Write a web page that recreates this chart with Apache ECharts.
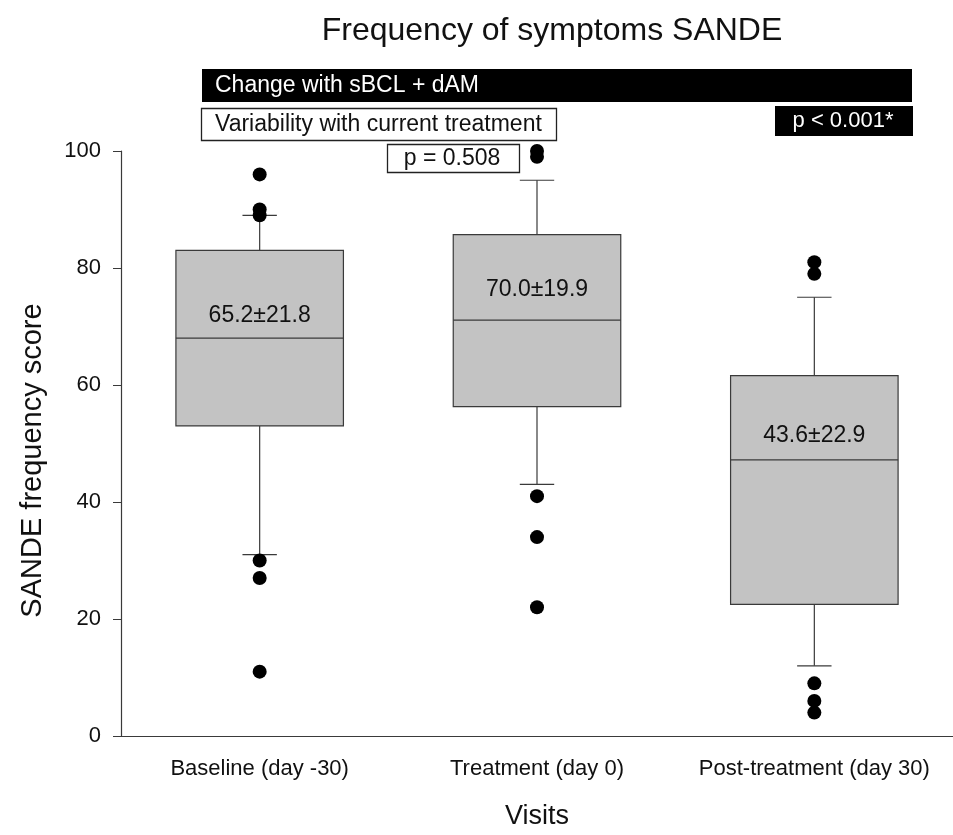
<!DOCTYPE html>
<html>
<head>
<meta charset="utf-8">
<script src="https://cdn.jsdelivr.net/npm/echarts@6/dist/echarts.min.js"></script>
<style>
  html, body { margin: 0; padding: 0; background: #fff; }
  #chart { width: 953px; height: 835px; }
</style>
</head>
<body>
<div id="chart"></div>
<script>
// visits on the x axis
const categories = ['Baseline (day -30)', 'Treatment (day 0)', 'Post-treatment (day 30)'];
// box plot five numbers per visit
const boxMin = [31, 43, 12];
const boxQ1 = [53, 56.3, 22.5];
const boxMedian = [68, 71.1, 47.2];
const boxQ3 = [83, 85.7, 61.6];
const boxMax = [89, 95, 75];
// mean ± sd printed inside each box
const meanSd = ['65.2±21.8', '70.0±19.9', '43.6±22.9'];
// outlying points per visit
const outliers = [
  [96, 90, 89, 30, 27, 11],
  [100, 99, 41, 34, 22],
  [81, 79, 9, 6, 4]
];
const yTicks = [0, 20, 40, 60, 80, 100];

const font = 'Liberation Sans, Arial, sans-serif';
const lineColor = '#3a3a3a';

const boxData = categories.map((c, i) => [i, boxMin[i], boxQ1[i], boxMedian[i], boxQ3[i], boxMax[i]]);
const outlierData = [];
outliers.forEach((vals, i) => vals.forEach(v => outlierData.push([i, v])));

// label distance above median, px
const labelShift = [-23, -30, -24];

function renderBox(params, api) {
  const idx = api.value(0);
  const band = api.size([1, 0])[0];
  const halfBox = band * 0.302;
  const halfCap = band * 0.062;
  const pMin = api.coord([idx, api.value(1)]);
  const pQ1 = api.coord([idx, api.value(2)]);
  const pMed = api.coord([idx, api.value(3)]);
  const pQ3 = api.coord([idx, api.value(4)]);
  const pMax = api.coord([idx, api.value(5)]);
  const x = pMed[0];
  const lineStyle = { stroke: lineColor, lineWidth: 1.2 };
  return {
    type: 'group',
    children: [
      { type: 'line', shape: { x1: x, y1: pQ3[1], x2: x, y2: pMax[1] }, style: lineStyle },
      { type: 'line', shape: { x1: x - halfCap, y1: pMax[1], x2: x + halfCap, y2: pMax[1] }, style: lineStyle },
      { type: 'line', shape: { x1: x, y1: pQ1[1], x2: x, y2: pMin[1] }, style: lineStyle },
      { type: 'line', shape: { x1: x - halfCap, y1: pMin[1], x2: x + halfCap, y2: pMin[1] }, style: lineStyle },
      {
        type: 'rect',
        shape: { x: x - halfBox, y: pQ3[1], width: halfBox * 2, height: pQ1[1] - pQ3[1] },
        style: { fill: '#c3c3c3', stroke: lineColor, lineWidth: 1.2 }
      },
      { type: 'line', shape: { x1: x - halfBox, y1: pMed[1], x2: x + halfBox, y2: pMed[1] }, style: lineStyle },
      {
        type: 'text',
        style: {
          text: meanSd[idx], x: x, y: pMed[1] + labelShift[idx],
          align: 'center', verticalAlign: 'middle',
          fontSize: 23, fontFamily: font, fill: '#111'
        }
      }
    ]
  };
}

const chart = echarts.init(document.getElementById('chart'));
chart.setOption({
  backgroundColor: '#fff',
  animation: false,
  title: {
    text: 'Frequency of symptoms SANDE',
    left: 547,
    top: 10,
    textAlign: 'center',
    textStyle: { fontFamily: font, fontSize: 32, fontWeight: 'normal', color: '#111' }
  },
  grid: { left: 121, top: 151, width: 840, height: 590 },
  xAxis: {
    type: 'category',
    data: categories,
    name: 'Visits',
    nameLocation: 'middle',
    nameGap: 67,
    nameTextStyle: { fontFamily: font, fontSize: 27, color: '#111', verticalAlign: 'top' },
    axisLine: { lineStyle: { color: lineColor, width: 1.2 } },
    axisTick: { alignWithLabel: true, interval: 0, length: 8, lineStyle: { color: lineColor } },
    axisLabel: { interval: 0, hideOverlap: false, margin: 22, fontFamily: font, fontSize: 22, color: '#111' },
    splitLine: { show: false }
  },
  yAxis: {
    type: 'value',
    min: yTicks[0],
    max: yTicks[yTicks.length - 1],
    interval: 20,
    name: 'SANDE frequency score',
    nameLocation: 'middle',
    nameGap: 74,
    nameTextStyle: { fontFamily: font, fontSize: 29, color: '#111', padding: [0, 34, 0, 0] },
    axisLine: { show: true, lineStyle: { color: lineColor, width: 1.2 } },
    axisTick: { show: true, length: 8, lineStyle: { color: lineColor } },
    axisLabel: { margin: 20, fontFamily: font, fontSize: 22, color: '#111' },
    splitLine: { show: false }
  },
  series: [
    {
      type: 'custom',
      renderItem: renderBox,
      encode: { x: 0, y: [1, 2, 3, 4, 5] },
      data: boxData,
      z: 2
    },
    {
      type: 'scatter',
      data: outlierData,
      symbol: 'circle',
      symbolSize: 14,
      itemStyle: { color: '#000', opacity: 1 },
      z: 3
    }
  ],
  graphic: [
    { type: 'rect', shape: { x: 202, y: 69, width: 710, height: 33 }, style: { fill: '#000' } },
    {
      type: 'text', x: 215, y: 86,
      style: { text: 'Change with sBCL + dAM', fill: '#fff', fontSize: 23, fontFamily: font, verticalAlign: 'middle' }
    },
    {
      type: 'rect', shape: { x: 201.5, y: 108.5, width: 355, height: 32 },
      style: { fill: '#fff', stroke: '#222', lineWidth: 1.3 }
    },
    {
      type: 'text', x: 215, y: 125,
      style: { text: 'Variability with current treatment', fill: '#111', fontSize: 23, fontFamily: font, verticalAlign: 'middle' }
    },
    { type: 'rect', shape: { x: 775, y: 106, width: 138, height: 30 }, style: { fill: '#000' } },
    {
      type: 'text', x: 843, y: 121,
      style: { text: 'p < 0.001*', fill: '#fff', fontSize: 22, fontFamily: font, align: 'center', verticalAlign: 'middle' }
    },
    {
      type: 'rect', shape: { x: 387.5, y: 144.5, width: 132, height: 28 },
      style: { fill: '#fff', stroke: '#222', lineWidth: 1.3 }
    },
    {
      type: 'text', x: 452, y: 159,
      style: { text: 'p = 0.508', fill: '#111', fontSize: 23, fontFamily: font, align: 'center', verticalAlign: 'middle' }
    }
  ]
});
</script>
</body>
</html>
